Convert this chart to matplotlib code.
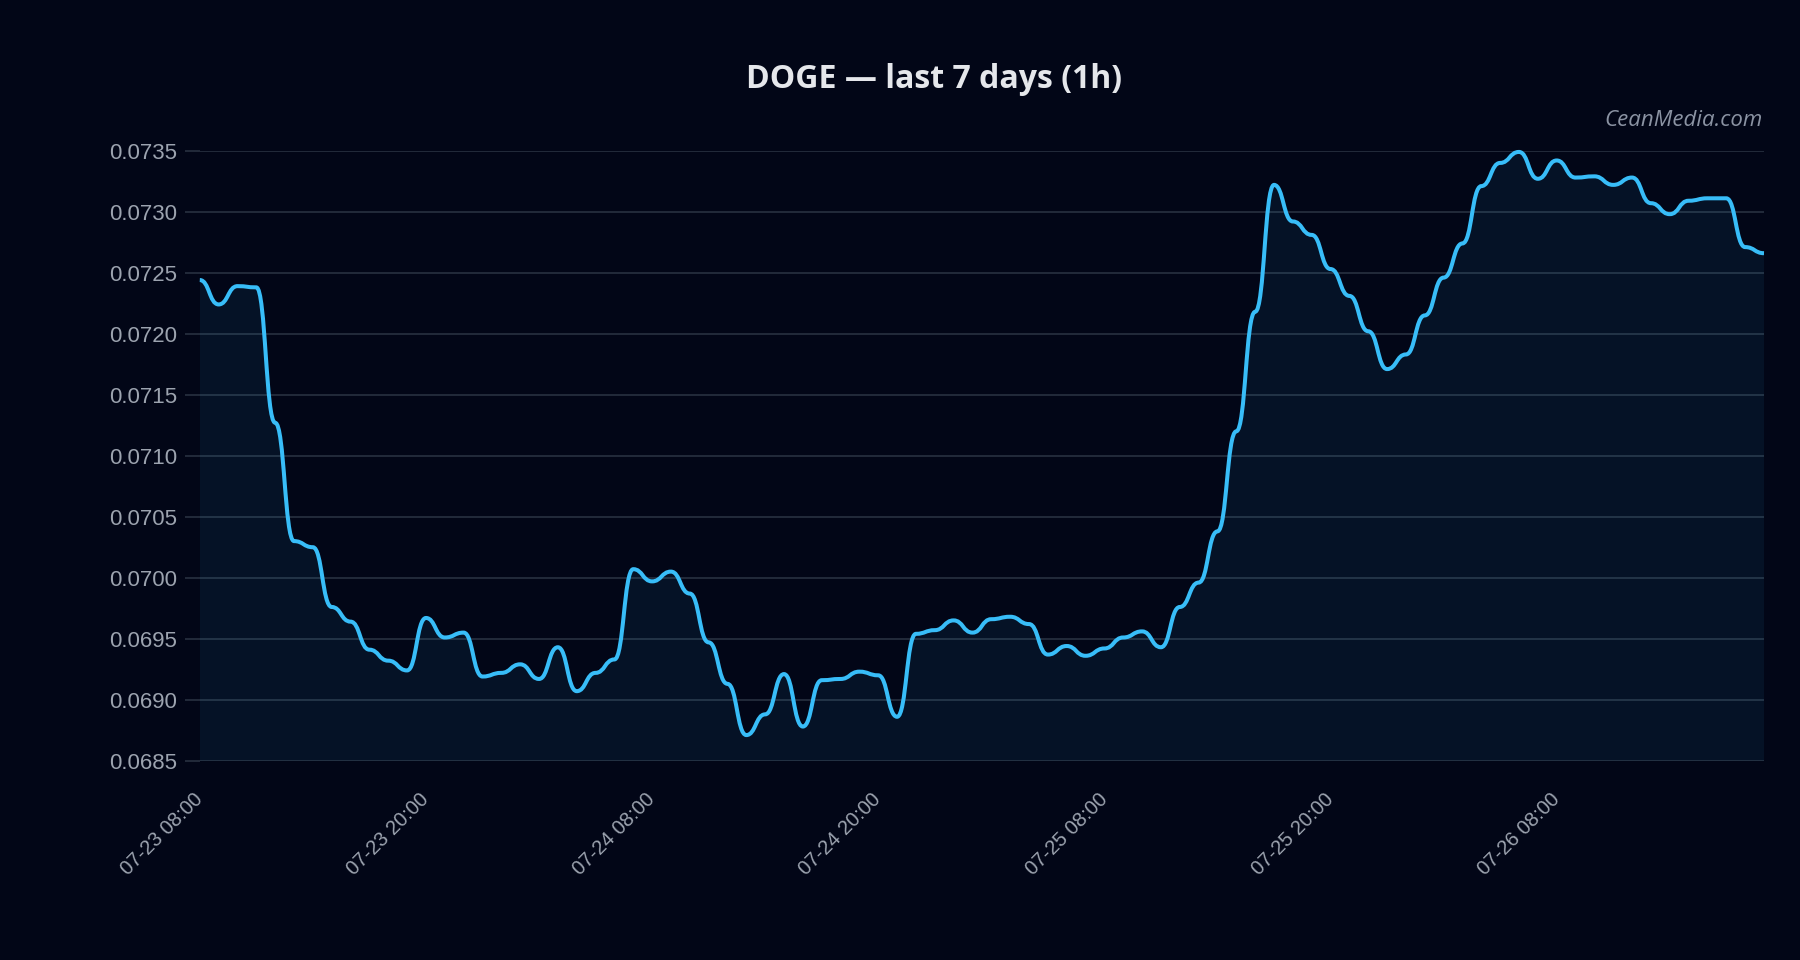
import numpy as np
import pandas as pd
import matplotlib
matplotlib.use("Agg")
import matplotlib.pyplot as plt
from matplotlib.path import Path
from matplotlib.patches import PathPatch

# hourly DOGE closes, starting 07-23 08:00
start = pd.Timestamp("2025-07-23 08:00")
prices = [
    0.07244, 0.07224, 0.07239, 0.07238, 0.07127, 0.07030, 0.07025, 0.06976,
    0.06964, 0.06941, 0.06932, 0.06924, 0.06967, 0.06951, 0.06955, 0.06919,
    0.06922, 0.06929, 0.06917, 0.06943, 0.06907, 0.06922, 0.06933, 0.07007,
    0.06997, 0.07005, 0.06987, 0.06947, 0.06913, 0.06871, 0.06888, 0.06921,
    0.06878, 0.06916, 0.06917, 0.06923, 0.06920, 0.06886, 0.06954, 0.06957,
    0.06965, 0.06955, 0.06966, 0.06968, 0.06962, 0.06937, 0.06944, 0.06936,
    0.06942, 0.06951, 0.06956, 0.06943, 0.06976, 0.06996, 0.07038, 0.07120,
    0.07218, 0.07322, 0.07292, 0.07281, 0.07253, 0.07231, 0.07202, 0.07171,
    0.07183, 0.07215, 0.07246, 0.07274, 0.07321, 0.07340, 0.07349, 0.07327,
    0.07342, 0.07328, 0.07329, 0.07322, 0.07328, 0.07307, 0.07298, 0.07309,
    0.07311, 0.07311, 0.07271, 0.07266,
]
tick_hours = [0, 12, 24, 36, 48, 60, 72]
tick_labels = [(start + pd.Timedelta(hours=h)).strftime("%m-%d %H:%M") for h in tick_hours]
y_ticks = [0.0685, 0.0690, 0.0695, 0.0700, 0.0705, 0.0710, 0.0715, 0.0720, 0.0725, 0.0730, 0.0735]

BG = "#020617"
LINE = "#38bdf8"
GRID = "#283140"
TXT = "#9ca3af"


def smooth_path(x, y, base=None, k=0.5):
    # bump-style bezier: flat tangent at every point
    verts = [(x[0], y[0])]
    codes = [Path.MOVETO]
    for i in range(len(x) - 1):
        dx = x[i + 1] - x[i]
        verts += [(x[i] + dx * k, y[i]), (x[i + 1] - dx * k, y[i + 1]), (x[i + 1], y[i + 1])]
        codes += [Path.CURVE4] * 3
    if base is not None:
        verts += [(x[-1], base), (x[0], base), (x[0], y[0])]
        codes += [Path.LINETO, Path.LINETO, Path.CLOSEPOLY]
    return Path(verts, codes)


hours = np.arange(len(prices))

fig = plt.figure(figsize=(18, 9.6), dpi=100, facecolor=BG)
ax = fig.add_axes([0.111, 0.2076, 0.869, 0.6354], facecolor=BG)

ax.set_xlim(hours[0], hours[-1])
ax.set_ylim(y_ticks[0], y_ticks[-1])

ax.add_patch(PathPatch(smooth_path(hours, prices, base=y_ticks[0]),
                       facecolor=LINE, alpha=0.07, edgecolor="none", zorder=2))
ax.add_patch(PathPatch(smooth_path(hours, prices), fill=False, edgecolor=LINE,
                       lw=2.9, capstyle="butt", joinstyle="round", zorder=3, clip_on=False))

ax.set_yticks(y_ticks)
ax.set_yticklabels([f"{v:.4f}" for v in y_ticks])
ax.grid(axis="y", color=GRID, lw=1.2, zorder=1)
ax.set_axisbelow(True)

ax.set_xticks(tick_hours)
ax.set_xticklabels(tick_labels, rotation=45, ha="right", va="center", rotation_mode="anchor")

for s in ax.spines.values():
    s.set_visible(False)

ax.tick_params(axis="y", colors=GRID, labelcolor=TXT, length=11, width=1.2, pad=5.5,
               labelsize=16)
ax.tick_params(axis="x", length=0, labelcolor=TXT, pad=26, labelsize=14.5)
for lab in ax.get_xticklabels() + ax.get_yticklabels():
    lab.set_fontfamily(["Liberation Sans", "DejaVu Sans"])

fig.text(0.519, 0.917, "DOGE — last 7 days (1h)", ha="center", va="center",
         fontsize=23, fontweight="bold", color="#e5e7eb",
         family=["Open Sans", "Noto Sans", "DejaVu Sans"])
fig.text(0.979, 0.875, "CeanMedia.com", ha="right", va="center", fontsize=16,
         style="italic", color="#8b93a3", family=["Open Sans", "Noto Sans", "DejaVu Sans"])

fig.savefig("out.png", dpi=100, facecolor=BG)
